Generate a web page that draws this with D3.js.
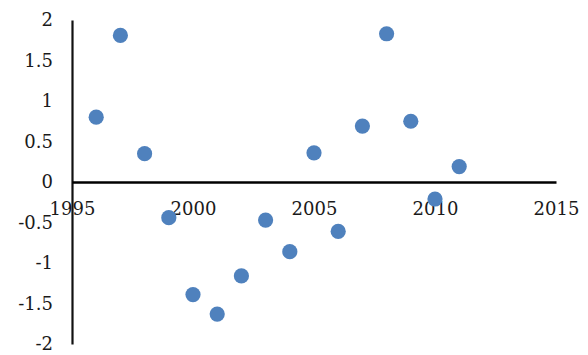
<!DOCTYPE html>
<html>
<head>
<meta charset="utf-8">
<script src="https://cdn.jsdelivr.net/npm/d3@7"></script>
<style>
  html, body { margin: 0; padding: 0; background: #fff; }
  svg { display: block; }
</style>
</head>
<body>
<svg id="chart" width="588" height="355"></svg>
<script>
// Yearly values
const years  = [1996, 1997, 1998, 1999, 2000, 2001, 2002, 2003, 2004, 2005, 2006, 2007, 2008, 2009, 2010, 2011];
const values = [0.80, 1.81, 0.35, -0.44, -1.39, -1.63, -1.16, -0.47, -0.86, 0.36, -0.61, 0.69, 1.83, 0.75, -0.21, 0.19];

// Axis ticks
const xTicks = [1995, 2000, 2005, 2010, 2015];
const yTicks = [-2, -1.5, -1, -0.5, 0, 0.5, 1, 1.5, 2];

const labelFont = "'DejaVu Serif', serif";
const labelSize = "18px";

const svg = d3.select("#chart");

const x = d3.scaleLinear().domain([1995, 2015]).range([72, 556]);
const y = d3.scaleLinear().domain([-2, 2]).range([344, 20]);

// Vertical value axis at the left edge
const yAxis = svg.append("g")
  .attr("transform", `translate(${x(1995)},0)`)
  .call(d3.axisLeft(y).tickValues(yTicks).tickSize(0).tickPadding(19)
    .tickFormat(d => String(d)));
yAxis.select(".domain").attr("stroke", "#111").attr("stroke-width", 2.2);
yAxis.selectAll(".tick text")
  .style("font-family", labelFont).style("font-size", labelSize)
  .attr("fill", "#1a1a1a").attr("dy", "0.33em");

// Horizontal year axis crossing at zero, labels sit below
const xAxis = svg.append("g")
  .attr("transform", `translate(0,${y(0)})`)
  .call(d3.axisBottom(x).tickValues(xTicks).tickSize(0).tickPadding(20)
    .tickFormat(d3.format("d")));
xAxis.select(".domain").attr("stroke", "#000").attr("stroke-width", 2.6);
xAxis.selectAll(".tick text")
  .style("font-family", labelFont).style("font-size", labelSize)
  .attr("fill", "#1a1a1a").attr("dy", "0.71em");

// Points
svg.append("g")
  .selectAll("circle")
  .data(years.map((yr, i) => ({ yr, v: values[i] })))
  .join("circle")
  .attr("cx", d => x(d.yr))
  .attr("cy", d => y(d.v))
  .attr("r", 7.6)
  .attr("fill", "#4f81bd");
</script>
</body>
</html>
